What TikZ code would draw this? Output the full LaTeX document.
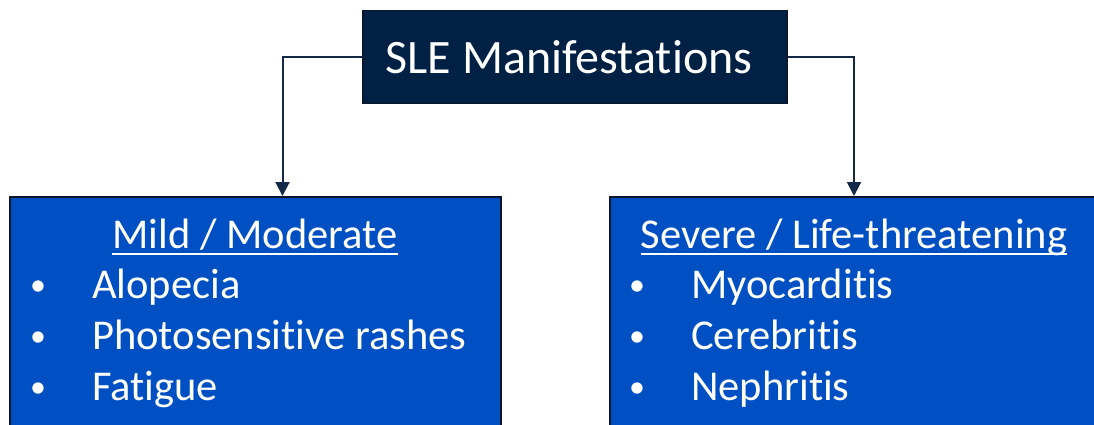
\documentclass[tikz,border=0pt]{standalone}
\usepackage{fontspec}
\setmainfont{Carlito}[Ligatures=NoCommon, Contextuals=NoAlternate]
\usetikzlibrary{arrows.meta}
\definecolor{navy}{RGB}{0,32,68}
\definecolor{boxblue}{RGB}{0,80,196}
\definecolor{edge}{RGB}{12,22,40}
\definecolor{conn}{RGB}{20,40,72}
\tikzset{
  topbox/.style={draw=edge, line width=1.8pt, fill=navy, minimum width=424pt, minimum height=93pt, inner sep=0pt},
  catbox/.style={draw=edge, line width=2pt, fill=boxblue, inner sep=0pt},
  titletext/.style={text=white, font=\fontsize{48}{58}\selectfont, inner sep=0pt, anchor=base},
  headtext/.style={text=white, font=\fontsize{42.5}{50}\selectfont, inner sep=0pt, anchor=base},
  itemtext/.style={text=white, font=\fontsize{42.5}{50}\selectfont, inner sep=0pt, anchor=base west},
  bullettext/.style={text=white, font=\fontsize{32}{40}\selectfont, inner sep=0pt, anchor=base},
  uline/.style={white, line width=2pt},
  connector/.style={conn, line width=2pt, -{Triangle[width=14pt,length=14pt]}}
}
\begin{document}
\begin{tikzpicture}[x=1pt, y=-1pt]
\useasboundingbox (0,0) rectangle (1094,425);
\clip (0,0) rectangle (1094,425);
% boxes
\node[topbox] (top) at (575,57) {};
\node[catbox, minimum width=491pt, minimum height=260pt] (left) at (255.5,327) {};
\node[catbox, minimum width=488pt, minimum height=260pt] (right) at (854,327) {};
% title
\node[titletext] (title) at (569,74) {SLE Manifestations};
% left content
\node[headtext] (h1) at (255,248) {Mild / Moderate};
\draw[uline] ([yshift=-6pt]h1.base west) -- ([yshift=-6pt]h1.base east);
\node[bullettext] (b1) at (38,295) {•};
\node[itemtext] (i1) at (92,298) {Alopecia};
\node[bullettext] (b2) at (38,346) {•};
\node[itemtext] (i2) at (92,349) {Photosensitive rashes};
\node[bullettext] (b3) at (38,397) {•};
\node[itemtext] (i3) at (92,400) {Fatigue};
% right content
\node[headtext] (h2) at (854,248) {Severe / Life-threatening};
\draw[uline] ([yshift=-6pt]h2.base west) -- ([yshift=-6pt]h2.base east);
\node[bullettext] (c1) at (637,295) {•};
\node[itemtext] (j1) at (691,298) {Myocarditis};
\node[bullettext] (c2) at (637,346) {•};
\node[itemtext] (j2) at (691,349) {Cerebritis};
\node[bullettext] (c3) at (637,397) {•};
\node[itemtext] (j3) at (691,400) {Nephritis};
% connectors
\coordinate (lc) at ([xshift=27pt]left.north);
\draw[connector] (top.west) -| (lc);
\draw[connector] (top.east) -| (right.north);
\end{tikzpicture}
\end{document}
